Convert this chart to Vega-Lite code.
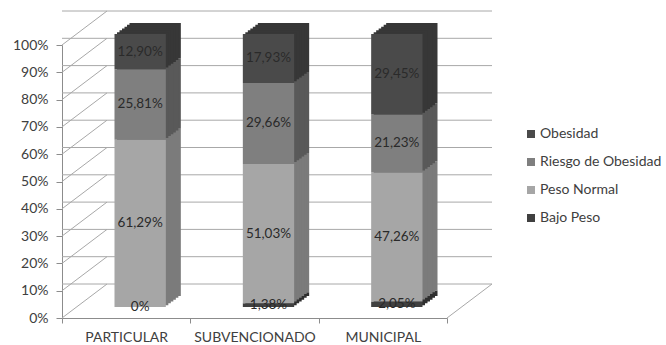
{
  "$schema": "https://vega.github.io/schema/vega-lite/v6.json",
  "width": 385,
  "height": 273,
  "autosize": {"type": "none"},
  "padding": {"left": 62, "top": 45, "right": 219, "bottom": 27},
  "background": "#ffffff",
  "config": {
    "locale": {"number": {"decimal": ",", "thousands": ".", "grouping": [3], "currency": ["$", ""]}},
    "view": {"stroke": null},
    "font": "Lato",
    "axis": {"domainColor": "#8c8c8c", "tickColor": "#8c8c8c", "labelFont": "Lato", "labelColor": "#404040", "grid": false, "labelOverlap": false},
    "axisX": {"labelAngle": 0, "labelAlign": "center", "labelBaseline": "top", "labelFontSize": 14, "labelPadding": 7, "tickSize": 5, "tickBand": "extent"},
    "axisY": {"labelFontSize": 14, "labelPadding": 8, "tickSize": 6, "labelAlign": "right", "labelBaseline": "middle"}
  },
  "datasets": {
    "nutricion": [
      {"tipo": "PARTICULAR", "cat": "Bajo Peso", "orden": 1, "v": 0},
      {"tipo": "PARTICULAR", "cat": "Peso Normal", "orden": 2, "v": 0.6129},
      {"tipo": "PARTICULAR", "cat": "Riesgo de Obesidad", "orden": 3, "v": 0.2581},
      {"tipo": "PARTICULAR", "cat": "Obesidad", "orden": 4, "v": 0.129},
      {"tipo": "SUBVENCIONADO", "cat": "Bajo Peso", "orden": 1, "v": 0.0138},
      {"tipo": "SUBVENCIONADO", "cat": "Peso Normal", "orden": 2, "v": 0.5103},
      {"tipo": "SUBVENCIONADO", "cat": "Riesgo de Obesidad", "orden": 3, "v": 0.2966},
      {"tipo": "SUBVENCIONADO", "cat": "Obesidad", "orden": 4, "v": 0.1793},
      {"tipo": "MUNICIPAL", "cat": "Bajo Peso", "orden": 1, "v": 0.0205},
      {"tipo": "MUNICIPAL", "cat": "Peso Normal", "orden": 2, "v": 0.4726},
      {"tipo": "MUNICIPAL", "cat": "Riesgo de Obesidad", "orden": 3, "v": 0.2123},
      {"tipo": "MUNICIPAL", "cat": "Obesidad", "orden": 4, "v": 0.2945}
    ],
    "marcas": [
      {"t": 0}, {"t": 0.1}, {"t": 0.2}, {"t": 0.3}, {"t": 0.4}, {"t": 0.5},
      {"t": 0.6}, {"t": 0.7}, {"t": 0.8}, {"t": 0.9}, {"t": 1}
    ]
  },
  "resolve": {"axis": {"x": "independent", "y": "independent"}},
  "layer": [
    {
      "description": "back wall gridlines",
      "data": {"name": "marcas"},
      "mark": {"type": "rule", "color": "#a8a8a8", "strokeWidth": 1, "xOffset": 45, "x2Offset": 45, "yOffset": -34, "y2Offset": -34},
      "encoding": {
        "y": {"field": "t", "type": "quantitative", "scale": {"domain": [0, 1], "nice": false}, "axis": null}
      }
    },
    {
      "description": "side wall diagonals",
      "data": {"name": "marcas"},
      "mark": {"type": "rule", "color": "#a8a8a8", "strokeWidth": 1, "x2Offset": 45, "y2Offset": -34},
      "encoding": {
        "x": {"value": 0},
        "x2": {"value": 0},
        "y": {"field": "t", "type": "quantitative", "scale": {"domain": [0, 1], "nice": false}, "axis": null},
        "y2": {"field": "t"}
      }
    },
    {
      "description": "floor right edge",
      "data": {"name": "marcas"},
      "transform": [{"filter": "datum.t === 0"}],
      "mark": {"type": "rule", "color": "#a8a8a8", "strokeWidth": 1, "x2Offset": 45, "y2Offset": -34},
      "encoding": {
        "x": {"value": "width"},
        "x2": {"value": "width"},
        "y": {"field": "t", "type": "quantitative", "scale": {"domain": [0, 1], "nice": false}, "axis": null},
        "y2": {"field": "t"}
      }
    },
    {
      "data": {"name": "nutricion"},
      "transform": [
        {"stack": "v", "groupby": ["tipo"], "sort": [{"field": "orden"}], "as": ["v0", "v1"]},
        {"calculate": "(datum.v0 + datum.v1) / 2", "as": "vm"}
      ],
      "resolve": {"axis": {"x": "independent", "y": "independent"}},
      "layer": [
        {
          "description": "bar depth, farthest slice",
          "mark": {"type": "bar", "width": {"band": 0.4}, "xOffset": 29, "x2Offset": 29, "yOffset": -22, "y2Offset": -22},
          "encoding": {
            "x": {"field": "tipo", "type": "nominal", "sort": ["PARTICULAR", "SUBVENCIONADO", "MUNICIPAL"], "scale": {"paddingInner": 0, "paddingOuter": 0}, "axis": null},
            "y": {"field": "v1", "type": "quantitative", "scale": {"domain": [0, 1], "nice": false}, "axis": null},
            "y2": {"field": "v0"},
            "fill": {"field": "cat", "type": "nominal", "legend": null,
              "scale": {"domain": ["Bajo Peso", "Peso Normal", "Riesgo de Obesidad", "Obesidad"], "range": ["#2f2f2f", "#7b7b7b", "#595959", "#373737"]}}
          }
        },
        {
          "mark": {"type": "bar", "width": {"band": 0.4}, "xOffset": 26.5, "x2Offset": 26.5, "yOffset": -20.2, "y2Offset": -20.2},
          "encoding": {
            "x": {"field": "tipo", "type": "nominal", "sort": ["PARTICULAR", "SUBVENCIONADO", "MUNICIPAL"], "scale": {"paddingInner": 0, "paddingOuter": 0}, "axis": null},
            "y": {"field": "v1", "type": "quantitative", "scale": {"domain": [0, 1], "nice": false}, "axis": null},
            "y2": {"field": "v0"},
            "fill": {"field": "cat", "type": "nominal", "legend": null,
              "scale": {"domain": ["Bajo Peso", "Peso Normal", "Riesgo de Obesidad", "Obesidad"], "range": ["#2f2f2f", "#7b7b7b", "#595959", "#373737"]}}
          }
        },
        {
          "mark": {"type": "bar", "width": {"band": 0.4}, "xOffset": 24, "x2Offset": 24, "yOffset": -18.3, "y2Offset": -18.3},
          "encoding": {
            "x": {"field": "tipo", "type": "nominal", "sort": ["PARTICULAR", "SUBVENCIONADO", "MUNICIPAL"], "scale": {"paddingInner": 0, "paddingOuter": 0}, "axis": null},
            "y": {"field": "v1", "type": "quantitative", "scale": {"domain": [0, 1], "nice": false}, "axis": null},
            "y2": {"field": "v0"},
            "fill": {"field": "cat", "type": "nominal", "legend": null,
              "scale": {"domain": ["Bajo Peso", "Peso Normal", "Riesgo de Obesidad", "Obesidad"], "range": ["#2f2f2f", "#7b7b7b", "#595959", "#373737"]}}
          }
        },
        {
          "mark": {"type": "bar", "width": {"band": 0.4}, "xOffset": 21.5, "x2Offset": 21.5, "yOffset": -16.5, "y2Offset": -16.5},
          "encoding": {
            "x": {"field": "tipo", "type": "nominal", "sort": ["PARTICULAR", "SUBVENCIONADO", "MUNICIPAL"], "scale": {"paddingInner": 0, "paddingOuter": 0}, "axis": null},
            "y": {"field": "v1", "type": "quantitative", "scale": {"domain": [0, 1], "nice": false}, "axis": null},
            "y2": {"field": "v0"},
            "fill": {"field": "cat", "type": "nominal", "legend": null,
              "scale": {"domain": ["Bajo Peso", "Peso Normal", "Riesgo de Obesidad", "Obesidad"], "range": ["#2f2f2f", "#7b7b7b", "#595959", "#373737"]}}
          }
        },
        {
          "mark": {"type": "bar", "width": {"band": 0.4}, "xOffset": 19, "x2Offset": 19, "yOffset": -14.7, "y2Offset": -14.7},
          "encoding": {
            "x": {"field": "tipo", "type": "nominal", "sort": ["PARTICULAR", "SUBVENCIONADO", "MUNICIPAL"], "scale": {"paddingInner": 0, "paddingOuter": 0}, "axis": null},
            "y": {"field": "v1", "type": "quantitative", "scale": {"domain": [0, 1], "nice": false}, "axis": null},
            "y2": {"field": "v0"},
            "fill": {"field": "cat", "type": "nominal", "legend": null,
              "scale": {"domain": ["Bajo Peso", "Peso Normal", "Riesgo de Obesidad", "Obesidad"], "range": ["#2f2f2f", "#7b7b7b", "#595959", "#373737"]}}
          }
        },
        {
          "description": "bar depth, nearest slice",
          "mark": {"type": "bar", "width": {"band": 0.4}, "xOffset": 16.5, "x2Offset": 16.5, "yOffset": -12.8, "y2Offset": -12.8},
          "encoding": {
            "x": {"field": "tipo", "type": "nominal", "sort": ["PARTICULAR", "SUBVENCIONADO", "MUNICIPAL"], "scale": {"paddingInner": 0, "paddingOuter": 0}, "axis": null},
            "y": {"field": "v1", "type": "quantitative", "scale": {"domain": [0, 1], "nice": false}, "axis": null},
            "y2": {"field": "v0"},
            "fill": {"field": "cat", "type": "nominal", "legend": null,
              "scale": {"domain": ["Bajo Peso", "Peso Normal", "Riesgo de Obesidad", "Obesidad"], "range": ["#2f2f2f", "#7b7b7b", "#595959", "#373737"]}}
          }
        },
        {
          "description": "front faces of the stacked bars",
          "mark": {"type": "bar", "width": {"band": 0.4}, "xOffset": 14, "x2Offset": 14, "yOffset": -11, "y2Offset": -11},
          "encoding": {
            "x": {"field": "tipo", "type": "nominal", "sort": ["PARTICULAR", "SUBVENCIONADO", "MUNICIPAL"], "scale": {"paddingInner": 0, "paddingOuter": 0}, "axis": {"title": null}},
            "y": {"field": "v1", "type": "quantitative", "scale": {"domain": [0, 1], "nice": false},
              "axis": {"title": null, "format": ".0%", "values": [0, 0.1, 0.2, 0.3, 0.4, 0.5, 0.6, 0.7, 0.8, 0.9, 1]}},
            "y2": {"field": "v0"},
            "color": {"field": "cat", "type": "nominal",
              "scale": {"domain": ["Obesidad", "Riesgo de Obesidad", "Peso Normal", "Bajo Peso"], "range": ["#4a4a4a", "#7f7f7f", "#a6a6a6", "#404040"]},
              "legend": {"title": null, "orient": "none", "legendX": 462, "legendY": 82, "padding": 0,
                "symbolType": "square", "symbolSize": 64, "symbolStrokeWidth": 0, "symbolOpacity": 1,
                "labelFont": "Lato", "labelFontSize": 14, "labelColor": "#404040", "labelOffset": 2, "rowPadding": 14}}
          }
        },
        {
          "description": "segment value labels",
          "mark": {"type": "text", "font": "Lato", "fontSize": 13.5, "color": "#2a2a2a", "baseline": "middle", "align": "center", "xOffset": 14, "yOffset": -11},
          "encoding": {
            "x": {"field": "tipo", "type": "nominal", "sort": ["PARTICULAR", "SUBVENCIONADO", "MUNICIPAL"], "scale": {"paddingInner": 0, "paddingOuter": 0}, "axis": null},
            "y": {"field": "vm", "type": "quantitative", "scale": {"domain": [0, 1], "nice": false}, "axis": null},
            "text": {"condition": {"test": "datum.v === 0", "value": "0%"}, "field": "v", "type": "quantitative", "format": ".2%"}
          }
        }
      ]
    }
  ]
}
